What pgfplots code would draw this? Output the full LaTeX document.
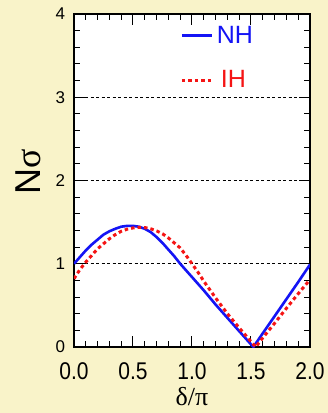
\documentclass[border=0pt]{standalone}
\usepackage{pgfplots}
\pgfplotsset{compat=1.18}
\usepackage{fontspec}
\setmainfont{Liberation Sans}
\newfontfamily\serifgreek{Liberation Serif}
\definecolor{bgyellow}{RGB}{249,243,201}
\definecolor{nhblue}{RGB}{20,20,245}
\definecolor{ihred}{RGB}{245,20,20}
\newcommand{\xlabfont}{\fontsize{26}{26}\selectfont}
\newcommand{\ylabfont}{\fontsize{36}{36}\selectfont}
\newcommand{\legfont}{\fontsize{25}{25}\selectfont}
\newcommand{\xl}[1]{{\fontsize{21}{21}\selectfont\rule{0pt}{28.5pt}\scalebox{1}[1.15]{#1}}}
\newcommand{\yl}[1]{{\fontsize{17}{17}\selectfont #1\kern5.5pt}}
\begin{document}
\begin{tikzpicture}
\useasboundingbox (0,0) rectangle (328pt,413pt);
\fill[bgyellow] (0,0) rectangle (328pt,413pt);
\fill[white] (74pt,66pt) rectangle (310pt,399pt);
\begin{axis}[
  at={(74pt,66pt)}, anchor=south west,
  scale only axis, width=236pt, height=333pt,
  xmin=0, xmax=2, ymin=0, ymax=4,
  xtick={0,0.5,1,1.5,2}, xticklabels={\xl{0.0},\xl{0.5},\xl{1.0},\xl{1.5},\xl{2.0}},
  ytick={0,1,2,3,4}, yticklabels={\yl{0},\yl{1},\yl{2},\yl{3},\yl{4}},
  minor x tick num=4, minor y tick num=4,
  tick align=inside, major tick length=11pt, minor tick length=6pt,
  every tick/.append style={black, line width=1pt},
  axis line style={line width=1.4pt},
  ymajorgrids, grid style={black, line width=0.9pt, dash pattern=on 3pt off 2.5pt},
  xlabel={{\serifgreek δ/π}},
  xlabel style={font=\xlabfont, at={(axis description cs:0.5,-0.175)}, anchor=base},
  ylabel={N{\serifgreek σ}},
  ylabel style={font=\ylabfont, at={(axis description cs:-0.195,0.526)}, anchor=center},
  legend style={at={(axis description cs:0.45,0.975)}, anchor=north west, draw=none, fill=none,
    font=\legfont, row sep=19pt, inner sep=0pt, nodes={inner sep=3.5pt}},
  legend cell align=left,
  legend image code/.code={\draw[#1] (0pt,0pt) -- (30pt,0pt);},
]
\addplot[nhblue, line width=2.6pt, line join=round] coordinates {
(0.00,1.00) (0.05,1.08) (0.10,1.16) (0.15,1.23) (0.20,1.29) (0.25,1.35)
(0.30,1.39) (0.35,1.42) (0.40,1.445) (0.45,1.455) (0.50,1.455) (0.55,1.445)
(0.60,1.42) (0.65,1.38) (0.70,1.32) (0.75,1.25) (0.80,1.17) (0.85,1.09)
(0.90,1.00) (0.95,0.92) (1.00,0.84) (1.10,0.68) (1.20,0.51) (1.30,0.35)
(1.40,0.19) (1.52,0.00) (1.60,0.165) (1.70,0.37) (1.80,0.575) (1.90,0.78) (2.00,0.99)
};
\addlegendentry{\textcolor{nhblue}{NH}}
\addplot[ihred, line width=3pt, dash pattern=on 3.5pt off 3pt] coordinates {
(0.00,0.82) (0.05,0.93) (0.10,1.02) (0.15,1.10) (0.20,1.18) (0.25,1.24)
(0.30,1.30) (0.35,1.35) (0.40,1.39) (0.45,1.415) (0.50,1.43) (0.55,1.437)
(0.60,1.435) (0.65,1.42) (0.70,1.395) (0.75,1.36) (0.80,1.31) (0.85,1.25)
(0.90,1.19) (0.95,1.10) (1.00,1.00) (1.05,0.90) (1.10,0.79) (1.20,0.59)
(1.30,0.40) (1.40,0.23) (1.47,0.115) (1.54,0.00) (1.60,0.11) (1.70,0.285)
(1.80,0.465) (1.90,0.64) (2.00,0.81)
};
\addlegendentry{\textcolor{ihred}{\hspace{4pt}IH}}
\end{axis}
\end{tikzpicture}
\end{document}
